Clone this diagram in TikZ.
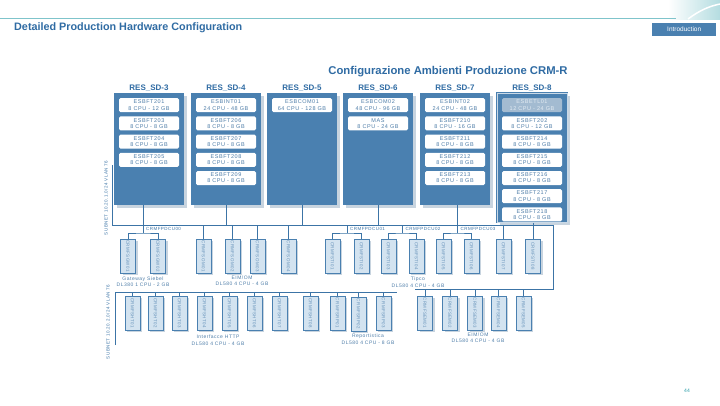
\documentclass[tikz,border=0pt]{standalone}
\usepackage{fontspec}
\setmainfont{Liberation Sans}
\newfontfamily\spacedfont[LetterSpace=10]{Liberation Sans}
\usetikzlibrary{positioning, shadows}

\definecolor{hpblue}{HTML}{4A80B0}
\definecolor{hptitle}{HTML}{2F6BA3}
\definecolor{hpline}{HTML}{3C74A6}
\definecolor{hpsrv}{HTML}{D3E3F0}
\definecolor{hpshadow}{HTML}{C8D4DF}
\definecolor{hptext}{HTML}{4E7DA8}
\definecolor{hpteal}{HTML}{2A9DA8}
\definecolor{hpetl}{HTML}{A3BBD1}

\tikzstyle{every node} = [inner sep=0pt, font=\spacedfont\fontsize{5.5}{6.2}\selectfont]
\tikzstyle{resbox} = [fill=hpblue, minimum width=70pt, drop shadow={shadow xshift=2.5pt, shadow yshift=-2.5pt, fill=hpshadow, opacity=1}]
\tikzstyle{reslabel} = [font=\fontsize{8}{9}\selectfont\bfseries, text=hptitle]
\tikzstyle{entry} = [fill=white, rounded corners=1.5pt, minimum width=60pt, minimum height=14pt, align=center, text=hptext]
\tikzstyle{server} = [draw=hpblue, line width=0.5pt, fill=hpsrv, minimum width=15pt, minimum height=34pt, text=hpline!80, font=\spacedfont\fontsize{4.4}{5}\selectfont, drop shadow={shadow xshift=2pt, shadow yshift=-2pt, fill=hpshadow, opacity=1}]
\tikzstyle{clname} = [anchor=west, text=hpline, font=\spacedfont\fontsize{4.5}{5}\selectfont]
\tikzstyle{grouplabel} = [align=center, text=hptext, font=\spacedfont\fontsize{5}{6.5}\selectfont]
\tikzstyle{bus} = [draw=hpline, line width=0.7pt]

\begin{document}
\begin{tikzpicture}[x=1pt, y=-1pt]
    \useasboundingbox (0,0) rectangle (720,405);

    % page header
    \shade[left color=white, right color=hpteal!35] (668,0) rectangle (720,19);
    \draw[white, line width=1.5pt] (688,19) .. controls (700,10) and (710,6) .. (720,4);
    \draw[hpteal!60, line width=0.6pt] (0,18) -- (676,18);
    \node[anchor=west, font=\fontsize{10.8}{12}\selectfont\bfseries, text=hptitle] (title) at (14,28) {Detailed Production Hardware Configuration};
    \node[fill=hpblue, text=white, minimum width=64pt, minimum height=13pt, anchor=west, font=\fontsize{6.5}{7}\selectfont] (intro) at (652,29) {Introduction};
    \node[text=hpteal, font=\fontsize{5}{6}\selectfont] (pnum) at (687,391) {44};

    \node[font=\fontsize{11.3}{13}\selectfont\bfseries, text=hptitle] (crmr) at (448,72) {Configurazione Ambienti Produzione CRM-R};

    % RES_SD boxes
    \node[resbox, minimum height=112pt, anchor=north] (sd3) at (149,93) {};
    \node[resbox, minimum height=112pt, anchor=north] (sd4) at (226,93) {};
    \node[resbox, minimum height=112pt, anchor=north] (sd5) at (302,93) {};
    \node[resbox, minimum height=112pt, anchor=north] (sd6) at (378,93) {};
    \node[resbox, minimum height=112pt, anchor=north] (sd7) at (455,93) {};
    \node[resbox, minimum height=129pt, anchor=north, draw=hpblue, line width=0.8pt, double=white!70!hpblue, double distance=0.5pt] (sd8) at (532,93) {};

    \node[reslabel, above=1pt of sd3] (sd3t) {RES\_SD-3};
    \node[reslabel, above=1pt of sd4] (sd4t) {RES\_SD-4};
    \node[reslabel, above=1pt of sd5] (sd5t) {RES\_SD-5};
    \node[reslabel, above=1pt of sd6] (sd6t) {RES\_SD-6};
    \node[reslabel, above=1pt of sd7] (sd7t) {RES\_SD-7};
    \node[reslabel, above=1pt of sd8.north, anchor=south] (sd8t) {RES\_SD-8};

    \node[entry, below=5pt of sd3.north] (ft201) {ESBFT201\\8 CPU - 12 GB};
    \node[entry, below=3.8pt of ft201] (ft203) {ESBFT203\\8 CPU - 8 GB};
    \node[entry, below=3.8pt of ft203] (ft204) {ESBFT204\\8 CPU - 8 GB};
    \node[entry, below=3.8pt of ft204] (ft205) {ESBFT205\\8 CPU - 8 GB};

    \node[entry, below=5pt of sd4.north] (int01) {ESBINT01\\24 CPU - 48 GB};
    \node[entry, below=3.8pt of int01] (ft206) {ESBFT206\\8 CPU - 8 GB};
    \node[entry, below=3.8pt of ft206] (ft207) {ESBFT207\\8 CPU - 8 GB};
    \node[entry, below=3.8pt of ft207] (ft208) {ESBFT208\\8 CPU - 8 GB};
    \node[entry, below=3.8pt of ft208] (ft209) {ESBFT209\\8 CPU - 8 GB};

    \node[entry, below=5pt of sd5.north] (com01) {ESBCOM01\\64 CPU - 128 GB};

    \node[entry, below=5pt of sd6.north] (com02) {ESBCOM02\\48 CPU - 96 GB};
    \node[entry, below=3.8pt of com02] (mas) {MAS\\8 CPU - 24 GB};

    \node[entry, below=5pt of sd7.north] (int02) {ESBINT02\\24 CPU - 48 GB};
    \node[entry, below=3.8pt of int02] (ft210) {ESBFT210\\8 CPU - 16 GB};
    \node[entry, below=3.8pt of ft210] (ft211) {ESBFT211\\8 CPU - 8 GB};
    \node[entry, below=3.8pt of ft211] (ft212) {ESBFT212\\8 CPU - 8 GB};
    \node[entry, below=3.8pt of ft212] (ft213) {ESBFT213\\8 CPU - 8 GB};

    \node[entry, fill=hpetl, text=white!85!hpblue, below=5pt of sd8.north] (etl01) {ESBETL01\\12 CPU - 24 GB};
    \node[entry, below=3.8pt of etl01] (ft202) {ESBFT202\\8 CPU - 12 GB};
    \node[entry, below=3.8pt of ft202] (ft214) {ESBFT214\\8 CPU - 8 GB};
    \node[entry, below=3.8pt of ft214] (ft215) {ESBFT215\\8 CPU - 8 GB};
    \node[entry, below=3.8pt of ft215] (ft216) {ESBFT216\\8 CPU - 8 GB};
    \node[entry, below=3.8pt of ft216] (ft217) {ESBFT217\\8 CPU - 8 GB};
    \node[entry, below=3.8pt of ft217] (ft218) {ESBFT218\\8 CPU - 8 GB};

    % first subnet
    \node[rotate=90, text=hpline, font=\spacedfont\fontsize{4.5}{5}\selectfont] (net1) at (106,198) {SUBNET 10.20.1.0/24 VLAN 76};
    \coordinate (busT) at (112,165);
    \coordinate (busL) at (112,225);
    \coordinate (busR) at (553,225);
    \coordinate (busRB) at (553,289);
    \coordinate (busRL) at (415,289);
    \coordinate (gwbus) at (143,233);
    \coordinate (tibus1) at (347,233);
    \coordinate (tibus2) at (402.5,233);
    \coordinate (tibus3) at (457.5,233);

    \node[server] (gw1) at (128,256) {\rotatebox{-90}{CRMFSGW01}};
    \node[server] (gw2) at (158,256) {\rotatebox{-90}{CRMFSGW02}};
    \node[server] (om1) at (203.5,256) {\rotatebox{-90}{CRMFSOM01}};
    \node[server] (om2) at (232.5,256) {\rotatebox{-90}{CRMFSOM02}};
    \node[server] (om3) at (257.5,256) {\rotatebox{-90}{CRMFSOM03}};
    \node[server] (om4) at (288.5,256) {\rotatebox{-90}{CRMFSOM04}};
    \node[server] (ti1) at (332.5,256) {\rotatebox{-90}{CRMFSTI01}};
    \node[server] (ti2) at (361.5,256) {\rotatebox{-90}{CRMFSTI02}};
    \node[server] (ti3) at (388.5,256) {\rotatebox{-90}{CRMFSTI03}};
    \node[server] (ti4) at (416.5,256) {\rotatebox{-90}{CRMFSTI04}};
    \node[server] (ti5) at (443.5,256) {\rotatebox{-90}{CRMFSTI05}};
    \node[server] (ti6) at (471.5,256) {\rotatebox{-90}{CRMFSTI06}};
    \node[server] (ti7) at (503.5,256) {\rotatebox{-90}{CRMFSTI07}};
    \node[server] (ti8) at (533,256) {\rotatebox{-90}{CRMFSTI08}};

    \node[clname] (gwcl) at (146,228.8) {CRMFPDCU00};
    \node[clname] (ticl1) at (350,228.8) {CRMFPDCU01};
    \node[clname] (ticl2) at (405.5,228.8) {CRMFPDCU02};
    \node[clname] (ticl3) at (460.5,228.8) {CRMFPDCU03};

    \node[grouplabel] (gwlab) at (143,281.5) {Gateway Siebel\\DL380 1 CPU - 2 GB};
    \node[grouplabel] (omlab) at (242,280.5) {EIM/OM\\DL580 4 CPU - 4 GB};
    \node[grouplabel] (tilab) at (418,282) {Tipco\\DL580 4 CPU - 4 GB};

    \draw[bus] (busT) -- (busL) -- (busR) -- (busRB) -- (busRL);
    \draw[bus] (gwbus |- sd3.south) -- (gwbus);
    \draw[bus] (sd4.south) -- (sd4.south |- busL);
    \draw[bus] (sd5.south) -- (sd5.south |- busL);
    \draw[bus] (sd6.south) -- (sd6.south |- busL);
    \draw[bus] (tibus3 |- sd7.south) -- (tibus3);
    \draw[bus] (ti8.north |- sd8.south) -- (ti8.north);
    \draw[bus] (gw1.north) |- (gwbus) -| (gw2.north);
    \draw[bus] (tibus1 |- busL) -- (tibus1);
    \draw[bus] (ti1.north) |- (tibus1) -| (ti2.north);
    \draw[bus] (tibus2 |- busL) -- (tibus2);
    \draw[bus] (ti3.north) |- (tibus2) -| (ti4.north);
    \draw[bus] (ti5.north) |- (tibus3) -| (ti6.north);
    \draw[bus] (om1.north) -- (om1.north |- busL);
    \draw[bus] (om2.north) -- (om2.north |- busL);
    \draw[bus] (om3.north) -- (om3.north |- busL);
    \draw[bus] (om4.north) -- (om4.north |- busL);
    \draw[bus] (ti7.north) -- (ti7.north |- busL);

    % second subnet
    \node[rotate=90, text=hpline, font=\spacedfont\fontsize{4.5}{5}\selectfont] (net2) at (108,322) {SUBNET 10.20.2.0/24 VLAN 76};
    \coordinate (bbusB) at (115,345);
    \coordinate (bbusL) at (115,292);
    \coordinate (bbusR) at (397,292);

    \node[server] (ht1) at (132.5,313) {\rotatebox{-90}{CRMFSHT01}};
    \node[server] (ht2) at (155.5,313) {\rotatebox{-90}{CRMFSHT02}};
    \node[server] (ht3) at (179.5,313) {\rotatebox{-90}{CRMFSHT03}};
    \node[server] (ht4) at (204.5,313) {\rotatebox{-90}{CRMFSHT04}};
    \node[server] (ht5) at (229.5,313) {\rotatebox{-90}{CRMFSHT05}};
    \node[server] (ht6) at (254.5,313) {\rotatebox{-90}{CRMFSHT06}};
    \node[server] (ht7) at (279.5,313) {\rotatebox{-90}{CRMFSHT07}};
    \node[server] (ht8) at (310.5,313) {\rotatebox{-90}{CRMFSHT08}};
    \node[server] (rp1) at (337.5,313) {\rotatebox{-90}{CRMFSRP01}};
    \node[server] (rp2) at (358.5,314) {\rotatebox{-90}{CRMFSRP02}};
    \node[server] (rp3) at (383.5,313) {\rotatebox{-90}{CRMFSRP03}};
    \node[server] (em1) at (425,313) {\rotatebox{-90}{CRMFSEM01}};
    \node[server] (em2) at (450,313) {\rotatebox{-90}{CRMFSEM02}};
    \node[server] (em3) at (475,313) {\rotatebox{-90}{CRMFSEM03}};
    \node[server] (em4) at (498.5,313) {\rotatebox{-90}{CRMFSEM04}};
    \node[server] (em5) at (523.5,313) {\rotatebox{-90}{CRMFSEM05}};

    \node[grouplabel] (htlab) at (218,340) {Interfacce HTTP\\DL580 4 CPU - 4 GB};
    \node[grouplabel] (rplab) at (368,339) {Reportistica\\DL580 4 CPU - 8 GB};
    \node[grouplabel] (emlab) at (478,337.5) {EIM/OM\\DL580 4 CPU - 4 GB};

    \draw[bus] (bbusB) -- (bbusL) -- (bbusR);
    \draw[bus] (ht1.north) -- (ht1.north |- bbusL);
    \draw[bus] (ht2.north) -- (ht2.north |- bbusL);
    \draw[bus] (ht3.north) -- (ht3.north |- bbusL);
    \draw[bus] (ht4.north) -- (ht4.north |- bbusL);
    \draw[bus] (ht5.north) -- (ht5.north |- bbusL);
    \draw[bus] (ht6.north) -- (ht6.north |- bbusL);
    \draw[bus] (ht7.north) -- (ht7.north |- bbusL);
    \draw[bus] (ht8.north) -- (ht8.north |- bbusL);
    \draw[bus] (rp1.north) -- (rp1.north |- bbusL);
    \draw[bus] (rp2.north) -- (rp2.north |- bbusL);
    \draw[bus] (rp3.north) -- (rp3.north |- bbusL);
    \draw[bus] (em1.north) -- (em1.north |- busRL);
    \draw[bus] (em2.north) -- (em2.north |- busRL);
    \draw[bus] (em3.north) -- (em3.north |- busRL);
    \draw[bus] (em4.north) -- (em4.north |- busRL);
    \draw[bus] (em5.north) -- (em5.north |- busRL);
\end{tikzpicture}
\end{document}
